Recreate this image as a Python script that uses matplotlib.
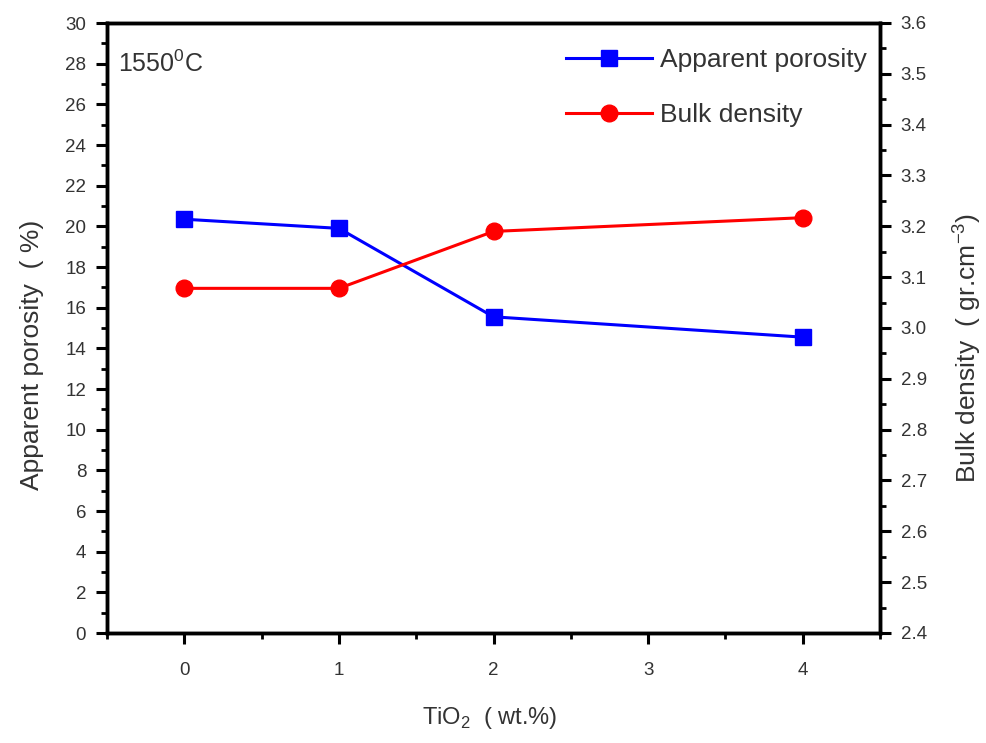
import matplotlib
matplotlib.use("Agg")
import matplotlib.pyplot as plt
from matplotlib.ticker import MultipleLocator, FormatStrFormatter

plt.rcParams['font.family'] = ['Liberation Sans', 'DejaVu Sans']
plt.rcParams['mathtext.fontset'] = 'custom'
plt.rcParams['mathtext.rm'] = 'Liberation Sans'

tio2 = [0, 1, 2, 4]
porosity = [20.35, 19.9, 15.55, 14.55]
density = [3.078, 3.078, 3.19, 3.217]

text_col = '#333333'

fig = plt.figure(figsize=(9.86, 7.43), dpi=100)
ax = fig.add_axes([107/986, 1 - 633/743, (880-107)/986, (633-23)/743])
ax2 = ax.twinx()

l1, = ax.plot(tio2, porosity, color='#0000ff', lw=2.2, marker='s', ms=11,
              label='Apparent porosity')
l2, = ax2.plot(tio2, density, color='#ff0000', lw=2.2, marker='o', ms=12,
               label='Bulk density')

ax.set_xlim(-0.5, 4.5)
ax.set_ylim(0, 30)
ax2.set_ylim(2.4, 3.6)

ax.xaxis.set_major_locator(MultipleLocator(1))
ax.xaxis.set_minor_locator(MultipleLocator(0.5))
ax.yaxis.set_major_locator(MultipleLocator(2))
ax.yaxis.set_minor_locator(MultipleLocator(1))
ax2.yaxis.set_major_locator(MultipleLocator(0.1))
ax2.yaxis.set_minor_locator(MultipleLocator(0.05))
ax2.yaxis.set_major_formatter(FormatStrFormatter('%.1f'))

for a in (ax, ax2):
    for s in a.spines.values():
        s.set_linewidth(2.5)
    a.tick_params(which='major', direction='out', length=8, width=2.2,
                  labelsize=13.5, labelcolor=text_col, pad=7)
    a.tick_params(which='minor', direction='out', length=4.5, width=2)
ax.tick_params(axis='x', pad=13)

ax.set_xlabel('TiO$_2$  ( wt.%)', fontsize=17, color=text_col)
ax.set_ylabel('Apparent porosity  ( %)', fontsize=19, color=text_col)
ax2.set_ylabel('Bulk density  ( gr.cm$^{-3}$)', fontsize=19, color=text_col)

# place axis titles in figure pixel coordinates
def axcoords(x, y):
    disp = fig.dpi_scale_trans.transform((x / 100, (743 - y) / 100))
    return ax.transAxes.inverted().transform(disp)

ax.xaxis.set_label_coords(*axcoords(490, 718))
ax.yaxis.set_label_coords(*axcoords(32, 355))
ax2.yaxis.set_label_coords(*axcoords(967, 348))
ax.xaxis.label.set_va('center')
ax.yaxis.label.set_va('center')
ax2.yaxis.label.set_va('center')

ax.text(0.014, 0.955, '1550$^0$C', transform=ax.transAxes, fontsize=18,
        color=text_col, va='top', ha='left')

leg = ax.legend([l1, l2], ['Apparent porosity', 'Bulk density'],
                loc='upper right', bbox_to_anchor=(1.016, 1.0),
                frameon=False, fontsize=19,
                handlelength=3.25, labelspacing=1.18, handletextpad=0.3,
                borderaxespad=0.66, borderpad=0.3)
for t in leg.get_texts():
    t.set_color(text_col)

fig.savefig('out.png', dpi=100)
